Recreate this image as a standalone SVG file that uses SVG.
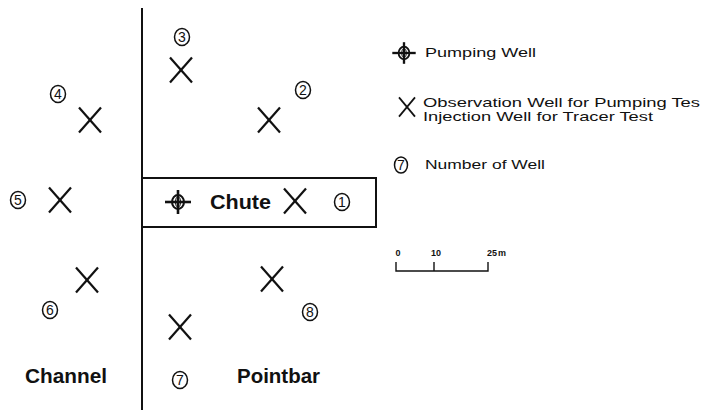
<svg xmlns="http://www.w3.org/2000/svg" width="702" height="410" viewBox="0 0 702 410">
  <defs>
    <style>
      .ln { stroke: #111; fill: none; }
      .x { stroke: #111; stroke-width: 2.2; fill: none; stroke-linecap: butt; }
      .ring { stroke: #111; stroke-width: 1.5; fill: none; }
      .num { font-family: "Liberation Sans", Arial, sans-serif; font-size: 14px; fill: #111; text-anchor: middle; }
      .lab { font-family: "Liberation Sans", Arial, sans-serif; font-size: 20px; font-weight: bold; fill: #111; }
      .leg { font-family: "Liberation Sans", Arial, sans-serif; font-size: 13px; fill: #111; }
      .sc { font-family: "Liberation Sans", Arial, sans-serif; font-size: 9px; font-weight: bold; fill: #111; }
    </style>
    <!-- observation / injection well: a plain cross -->
    <g id="xmark">
      <line class="x" x1="-11" y1="-12.5" x2="11" y2="12.5"/>
      <line class="x" x1="11" y1="-12.5" x2="-11" y2="12.5"/>
    </g>
    <!-- pumping well: circle with cross hairs -->
    <g id="pump">
      <line class="ln" stroke-width="2.6" x1="-13" y1="0" x2="13" y2="0"/>
      <line class="ln" stroke-width="2.6" x1="0" y1="-12" x2="0" y2="12"/>
      <ellipse class="ln" stroke-width="2" cx="0" cy="0" rx="6" ry="7"/>
      <ellipse class="ln" stroke-width="1" cx="0" cy="0" rx="2.5" ry="5"/>
    </g>
  </defs>

  <rect width="702" height="410" fill="#fff"/>

  <!-- channel / point bar boundary and the chute -->
  <g id="boundaries">
    <line class="ln" stroke-width="2" x1="142" y1="8" x2="142" y2="410"/>
    <polyline class="ln" stroke-width="2" points="142,178 376,178 376,227 142,227"/>
  </g>

  <g id="well-1">
    <use href="#xmark" x="295" y="201"/>
    <ellipse class="ring" cx="342" cy="202" rx="7.5" ry="8.5"/>
    <text class="num" x="342" y="207">1</text>
  </g>
  <g id="well-2">
    <use href="#xmark" x="269" y="120"/>
    <ellipse class="ring" cx="303" cy="90" rx="7.5" ry="8.5"/>
    <text class="num" x="303" y="95">2</text>
  </g>
  <g id="well-3">
    <use href="#xmark" x="181" y="70"/>
    <ellipse class="ring" cx="182" cy="37" rx="7.5" ry="8.5"/>
    <text class="num" x="182" y="42">3</text>
  </g>
  <g id="well-4">
    <use href="#xmark" x="90" y="120"/>
    <ellipse class="ring" cx="58" cy="94" rx="7.5" ry="8.5"/>
    <text class="num" x="58" y="99">4</text>
  </g>
  <g id="well-5">
    <use href="#xmark" x="60" y="200"/>
    <ellipse class="ring" cx="18" cy="200" rx="7.5" ry="8.5"/>
    <text class="num" x="18" y="205">5</text>
  </g>
  <g id="well-6">
    <use href="#xmark" x="87" y="280"/>
    <ellipse class="ring" cx="50" cy="310" rx="7.5" ry="8.5"/>
    <text class="num" x="50" y="315">6</text>
  </g>
  <g id="well-7">
    <use href="#xmark" x="180" y="327"/>
    <ellipse class="ring" cx="180" cy="380" rx="7.5" ry="8.5"/>
    <text class="num" x="180" y="385">7</text>
  </g>
  <g id="well-8">
    <use href="#xmark" x="272" y="279"/>
    <ellipse class="ring" cx="310" cy="312" rx="7.5" ry="8.5"/>
    <text class="num" x="310" y="317">8</text>
  </g>

  <g id="pumping-well">
    <use href="#pump" x="178" y="202"/>
    <text class="lab" x="210" y="208.5" textLength="61" lengthAdjust="spacingAndGlyphs">Chute</text>
  </g>

  <g id="area-labels">
    <text class="lab" x="25" y="383" textLength="82" lengthAdjust="spacingAndGlyphs">Channel</text>
    <text class="lab" x="237" y="383" textLength="83" lengthAdjust="spacingAndGlyphs">Pointbar</text>
  </g>

  <!-- legend -->
  <g id="legend">
    <g transform="translate(404 53) scale(0.9)">
      <use href="#pump"/>
    </g>
    <text class="leg" x="425" y="57" textLength="111" lengthAdjust="spacingAndGlyphs">Pumping Well</text>
    <g transform="translate(407 107) scale(0.8)">
      <line class="x" x1="-10" y1="-12" x2="10" y2="12"/>
      <line class="x" x1="10" y1="-12" x2="-10" y2="12"/>
    </g>
    <text class="leg" x="423" y="107" textLength="277" lengthAdjust="spacingAndGlyphs">Observation Well for Pumping Tes</text>
    <text class="leg" x="423" y="121" textLength="230" lengthAdjust="spacingAndGlyphs">Injection Well for Tracer Test</text>
    <ellipse class="ring" cx="401" cy="165" rx="6.5" ry="8"/>
    <text class="num" x="401" y="170" font-size="13">7</text>
    <text class="leg" x="425" y="169" textLength="120" lengthAdjust="spacingAndGlyphs">Number of Well</text>
  </g>

  <!-- scale bar -->
  <g id="scale">
    <polyline class="ln" stroke-width="1.4" points="396,262 396,271 488,271 488,262"/>
    <line class="ln" stroke-width="1.4" x1="434" y1="262" x2="434" y2="271"/>
    <text class="sc" x="398" y="256" text-anchor="middle">0</text>
    <text class="sc" x="436" y="256" text-anchor="middle">10</text>
    <text class="sc" x="487" y="256">25</text>
    <text class="sc" x="498" y="256" font-weight="normal">m</text>
  </g>
</svg>
